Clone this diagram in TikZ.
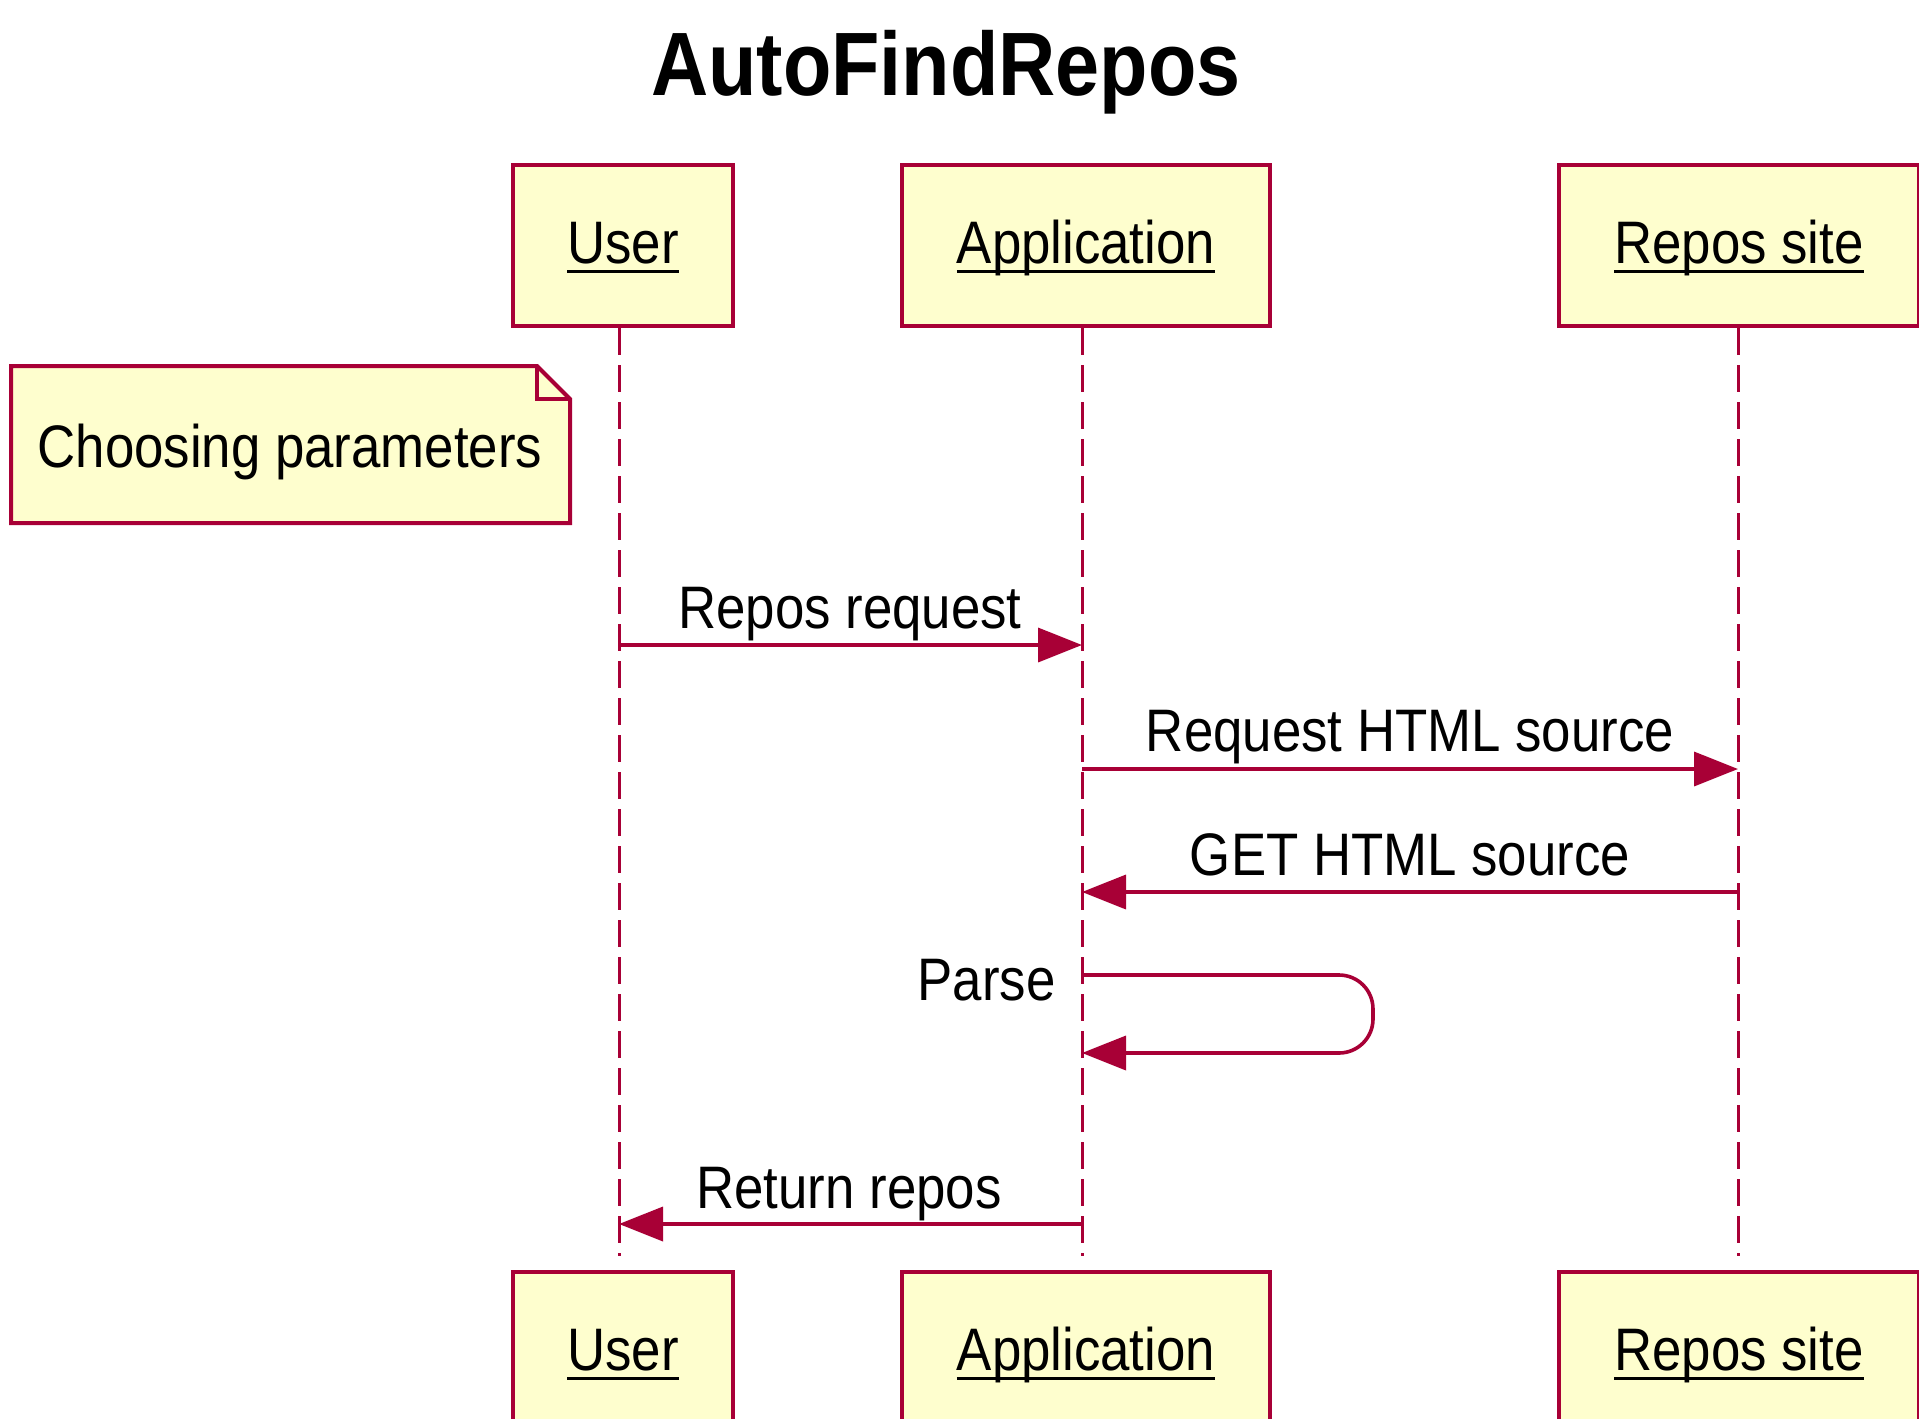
\documentclass[tikz,border=0pt]{standalone}
\usepackage{fontspec}
\newfontfamily\umlfont[FakeStretch=0.88]{Liberation Sans}
\usetikzlibrary{arrows.meta}
\definecolor{umlred}{HTML}{A80036}
\definecolor{umlfill}{HTML}{FEFECE}
\newcommand\uln[1]{\setbox0\hbox{#1}\rlap{\rule[-4.8pt]{\wd0}{1.7pt}}\box0}
\begin{document}
\begin{tikzpicture}[x=0.5pt,y=-0.5pt,
  font=\umlfont\fontsize{30pt}{36pt}\selectfont,
  actor/.style={draw=umlred, fill=umlfill, line width=2pt, minimum height=80.5pt,
    text height=25pt, text depth=7pt, inner sep=0pt},
  lifeline/.style={draw=umlred, line width=1.5pt, dash pattern=on 13.5pt off 5pt},
  msg/.style={draw=umlred, line width=1.8pt, -{Triangle[length=22pt,width=17pt]}},
  lbl/.style={anchor=base, inner sep=0pt},
  notebox/.style={draw=umlred, fill=umlfill, line width=2pt, line join=miter}]
\useasboundingbox (0,0) rectangle (1919,1419);
\clip (0,0) rectangle (1919,1419);
\fill[white] (0,0) rectangle (1919,1419);

% title
\node[anchor=base, inner sep=0pt, font=\umlfont\bfseries\fontsize{45pt}{52pt}\selectfont] (title) at (946,95) {AutoFindRepos};

% participants (top)
\node[actor, minimum width=110pt] (uT) at (623,245.5) {\uln{User}};
\node[actor, minimum width=184pt] (aT) at (1086,245.5) {\uln{Application}};
\node[actor, minimum width=180pt] (rT) at (1739,245.5) {\uln{Repos site}};

% participants (bottom)
\node[actor, minimum width=110pt] (uB) at (623,1352.5) {\uln{User}};
\node[actor, minimum width=184pt] (aB) at (1086,1352.5) {\uln{Application}};
\node[actor, minimum width=180pt] (rB) at (1739,1352.5) {\uln{Repos site}};

% lifeline anchors
\coordinate (uL) at ([xshift=-2pt]uT.south);
\coordinate (aL) at ([xshift=-2pt]aT.south);
\coordinate (rL) at ([xshift=-0.5pt]rT.south);
\coordinate (uE) at ([xshift=-2pt,yshift=7pt]uB.north);
\coordinate (aE) at ([xshift=-2pt,yshift=7pt]aB.north);
\coordinate (rE) at ([xshift=-0.5pt,yshift=7pt]rB.north);

% lifelines
\draw[lifeline] (uL) -- (uE);
\draw[lifeline] (aL) -- (aE);
\draw[lifeline] (rL) -- (rE);

% note
\draw[notebox] (11,366) -- (537,366) -- (570,399) -- (570,523) -- (11,523) -- cycle;
\draw[notebox, fill=none] (537,366) -- (537,399) -- (570,399);
\node[lbl] (note) at (290,467) {Choosing parameters};

% message levels
\coordinate (y1) at (0,645);
\coordinate (y2) at (0,769);
\coordinate (y3) at (0,892);
\coordinate (y4) at (0,975);
\coordinate (y5) at (0,1053);
\coordinate (y6) at (0,1224);
\coordinate (loopA) at (1373,975);
\coordinate (loopB) at (1373,1053);

% messages
\draw[msg] (uL |- y1) -- (aL |- y1);
\node[lbl] (m1) at (850,628) {Repos request};

\draw[msg] (aL |- y2) -- (rL |- y2);
\node[lbl] (m2) at (1410,751) {Request HTML source};

\draw[msg] (rL |- y3) -- (aL |- y3);
\node[lbl] (m3) at (1410,875) {GET HTML source};

\draw[msg, rounded corners=17pt] (aL |- y4) -- (loopA) -- (loopB) -- (aL |- y5);
\node[anchor=base east, inner sep=0pt] (m4) at (1056,1000) {Parse};

\draw[msg] (aL |- y6) -- (uL |- y6);
\node[lbl] (m5) at (849,1208) {Return repos};
\end{tikzpicture}
\end{document}
